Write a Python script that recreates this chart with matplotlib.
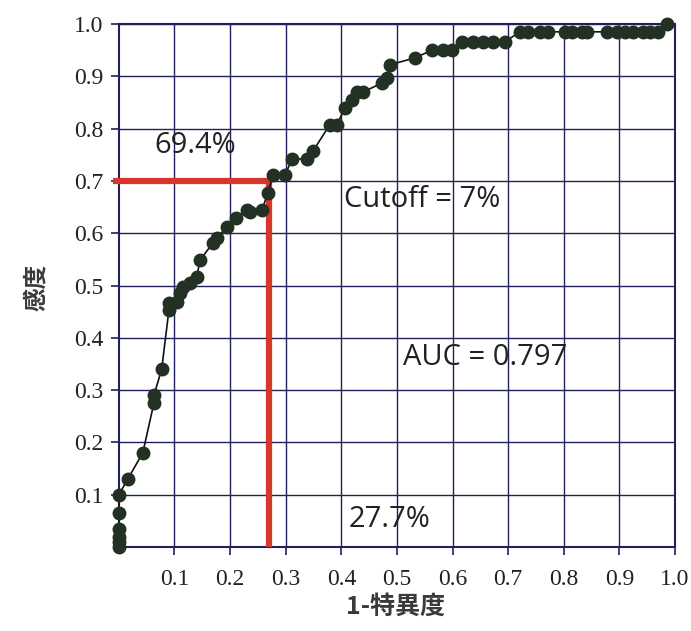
import matplotlib
matplotlib.use("Agg")
import matplotlib.pyplot as plt

# ROC curve points (1 - specificity, sensitivity)
fpr = [0.0, 0.0, 0.0, 0.0, 0.0, 0.0, 0.016, 0.043, 0.063, 0.063, 0.077,
       0.09, 0.09, 0.104, 0.11, 0.115, 0.128, 0.14, 0.146, 0.169, 0.176,
       0.194, 0.21, 0.23, 0.235, 0.257, 0.268, 0.277, 0.299, 0.311, 0.338,
       0.349, 0.379, 0.392, 0.406, 0.419, 0.428, 0.439, 0.473, 0.482, 0.487,
       0.532, 0.563, 0.583, 0.599, 0.617, 0.637, 0.655, 0.673, 0.694, 0.721,
       0.735, 0.757, 0.772, 0.802, 0.815, 0.833, 0.842, 0.878, 0.896, 0.91,
       0.925, 0.942, 0.955, 0.969, 0.986]
tpr = [0.0, 0.01, 0.02, 0.035, 0.065, 0.1, 0.13, 0.18, 0.275, 0.29, 0.34,
       0.453, 0.467, 0.468, 0.486, 0.497, 0.505, 0.516, 0.549, 0.581, 0.591,
       0.612, 0.629, 0.644, 0.641, 0.644, 0.677, 0.711, 0.711, 0.742, 0.742,
       0.757, 0.807, 0.807, 0.839, 0.855, 0.87, 0.87, 0.887, 0.897, 0.922,
       0.935, 0.95, 0.95, 0.95, 0.966, 0.966, 0.966, 0.966, 0.966, 0.985,
       0.985, 0.985, 0.985, 0.985, 0.985, 0.985, 0.985, 0.985, 0.985, 0.985,
       0.985, 0.985, 0.985, 0.985, 1.0]

cutoff_x = 0.27
cutoff_y = 0.70
ticks = [0.1, 0.2, 0.3, 0.4, 0.5, 0.6, 0.7, 0.8, 0.9, 1.0]
tick_labels = ["0.1", "0.2", "0.3", "0.4", "0.5", "0.6", "0.7", "0.8", "0.9", "1.0"]

navy = "#20205e"
fig = plt.figure(figsize=(6.91, 6.31), dpi=100)
ax = fig.add_axes([0.172, 0.133, 0.805, 0.829])
ax.set_xlim(0, 1.0)
ax.set_ylim(0, 1.0)

ax.set_xticks(ticks)
ax.set_xticklabels(tick_labels, family="Liberation Serif", fontsize=17, color="#222222")
ax.set_yticks(ticks)
ax.set_yticklabels(tick_labels, family="Liberation Serif", fontsize=17, color="#222222")
ax.tick_params(direction="out", length=6, width=1.2, color=navy, pad=5)
ax.tick_params(axis="x", pad=10)
ax.grid(True, color=navy, linewidth=1.0)
ax.set_axisbelow(True)
for s in ax.spines.values():
    s.set_color(navy)
    s.set_linewidth(1.5)

# red cutoff lines
ax.plot([-0.01, cutoff_x], [cutoff_y, cutoff_y], color="#d8362c", linewidth=4.5,
        solid_capstyle="butt", zorder=3, clip_on=False)
ax.plot([cutoff_x, cutoff_x], [0, cutoff_y], color="#d8362c", linewidth=4.5,
        solid_capstyle="butt", zorder=3, clip_on=False)

ax.plot(fpr, tpr, color="#111111", linewidth=1.2, marker="o", markersize=9,
        markerfacecolor="#233024", markeredgecolor="#233024", zorder=4, clip_on=False)

tfont = dict(family="Open Sans", fontsize=21, color="#222222")
ax.text(0.137, 0.768, "69.4%", ha="center", va="center", **tfont)
ax.text(0.404, 0.665, "Cutoff = 7%", ha="left", va="center", **tfont)
ax.text(0.51, 0.363, "AUC = 0.797", ha="left", va="center", **tfont)
ax.text(0.413, 0.052, "27.7%", ha="left", va="center", **tfont)

cjk = ["Noto Sans CJK JP", "DejaVu Sans"]
fig.text(0.052, 0.544, "感度", rotation=90, ha="center", va="center",
         family=cjk, fontsize=17, fontweight="bold", color="#3a3a3a")
fig.text(0.572, 0.038, "1-特異度", ha="center", va="center",
         family=cjk, fontsize=18, fontweight="bold", color="#3a3a3a")

fig.savefig("out.png", dpi=100)
